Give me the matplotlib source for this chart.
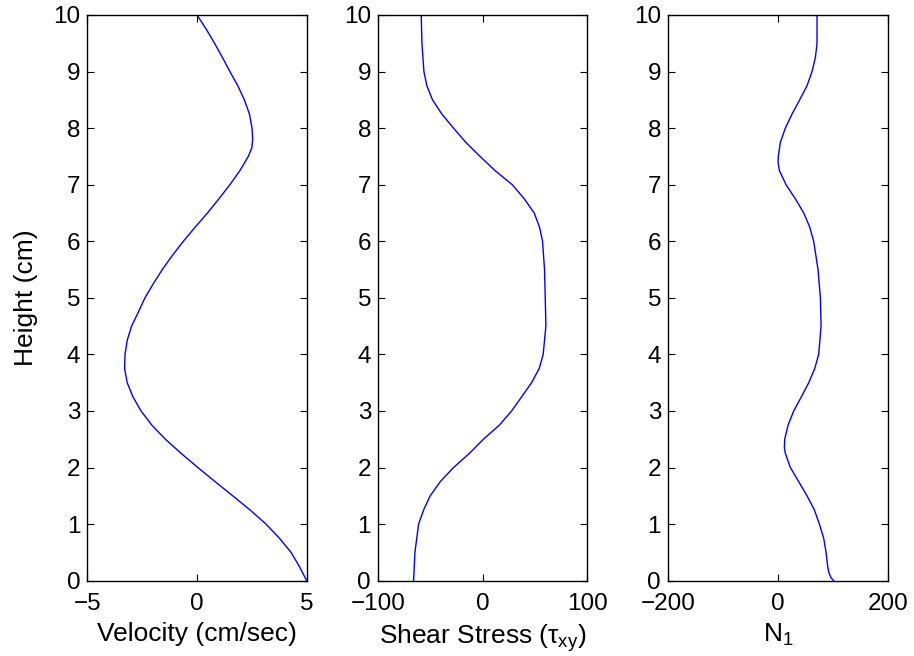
import matplotlib
matplotlib.use('Agg')
import matplotlib.pyplot as plt

plt.rcParams['font.family'] = ['Liberation Sans', 'DejaVu Sans']
plt.rcParams['mathtext.fontset'] = 'custom'
plt.rcParams['mathtext.rm'] = 'Liberation Sans'
plt.rcParams['mathtext.it'] = 'Liberation Sans'
plt.rcParams['font.size'] = 19

# heights (cm) and values
vel_h = [10, 9.75, 9.5, 9.25, 9, 8.75, 8.5, 8.25, 8, 7.8, 7.65, 7.5, 7.25, 7, 6.75, 6.5,
         6.25, 6, 5.75, 5.5, 5.25, 5, 4.75, 4.5, 4.25, 4, 3.75, 3.5, 3.25, 3, 2.75, 2.5,
         2.25, 2, 1.75, 1.5, 1.25, 1, 0.75, 0.5, 0.25, 0]
vel = [0.0, 0.42, 0.8, 1.16, 1.5, 1.86, 2.16, 2.39, 2.51, 2.54, 2.5, 2.34, 1.96, 1.5,
       1.0, 0.48, -0.08, -0.62, -1.12, -1.58, -1.99, -2.37, -2.67, -2.98, -3.18, -3.28,
       -3.3, -3.18, -2.92, -2.55, -2.06, -1.44, -0.72, 0.04, 0.83, 1.63, 2.42, 3.15,
       3.76, 4.29, 4.67, 5.0]

tau_h = [10, 9.5, 9, 8.75, 8.5, 8.25, 8, 7.75, 7.5, 7.25, 7, 6.75, 6.5, 6.25, 6, 5.5, 5,
         4.5, 4, 3.75, 3.5, 3.25, 3, 2.75, 2.5, 2.25, 2, 1.75, 1.5, 1.25, 1, 0.5, 0]
tau = [-58.7, -58.0, -56.1, -53.3, -47.9, -39.0, -27.8, -16.1, -2.4, 11.9, 28.4, 39.9, 49.4,
       54.5, 57.4, 59.3, 60.0,
       60.6, 58.0, 54.2, 46.9, 37.4, 27.8, 16.1, 0.8, -12.6, -27.8, -40.5, -50.1, -56.4,
       -61.2, -64.7, -66.0]

n1_h = [10, 9.5, 9.25, 9, 8.75, 8.5, 8.25, 8, 7.75, 7.5, 7.4, 7.25, 7, 6.75, 6.5, 6.25, 6,
        5.5, 5, 4.5, 4, 3.75, 3.5, 3.25, 3, 2.75, 2.5, 2.35, 2.25, 2, 1.75, 1.5, 1.25, 1,
        0.75, 0.5, 0.25, 0.15, 0.05, 0]
n1 = [70.9, 70.9, 67.9, 61.8, 52.7, 39.4, 25.5, 13.3, 4.2, 0.5, 0.0, 2.4, 14.5, 31.5, 46.7,
      57.6, 64.8, 72.7, 77.0, 78.2, 73.9, 66.7, 55.8, 42.4, 28.5, 18.2, 12.1, 11.5, 13.3,
      22.4, 37.6, 52.7, 66.1, 75.2, 83.0, 87.3, 90.3, 92.1, 96.4, 101.2]

panels = [
    (vel, vel_h, (-5, 5), [-5, 0, 5], 'Velocity (cm/sec)'),
    (tau, tau_h, (-100, 100), [-100, 0, 100], r'Shear Stress ($\tau_{xy}$)'),
    (n1, n1_h, (-200, 200), [-200, 0, 200], r'$\mathregular{N_1}$'),
]
rects = [
    [0.0955, 0.1148, 0.2400, 0.8624],
    [0.4136, 0.1148, 0.2287, 0.8624],
    [0.7309, 0.1148, 0.2407, 0.8624],
]

fig = plt.figure(figsize=(9.14, 6.56), dpi=100)
for i, (x, y, xlim, xt, xlab) in enumerate(panels):
    ax = fig.add_axes(rects[i])
    ax.plot(x, y, color='blue', lw=1)
    ax.set_xlim(xlim)
    ax.set_ylim(0, 10)
    ax.set_xticks(xt)
    ax.set_yticks(range(0, 11))
    ax.tick_params(direction='in', top=True, right=True, length=5, width=0.8,
                   labelsize=17.5)
    ax.tick_params(axis='x', pad=9)
    ax.tick_params(axis='y', pad=5)
    ax.set_xlabel(xlab, labelpad=5)
    if i == 0:
        ax.set_ylabel('Height (cm)', labelpad=11)
    for s in ax.spines.values():
        s.set_linewidth(1)

plt.savefig('out.png', dpi=100)
